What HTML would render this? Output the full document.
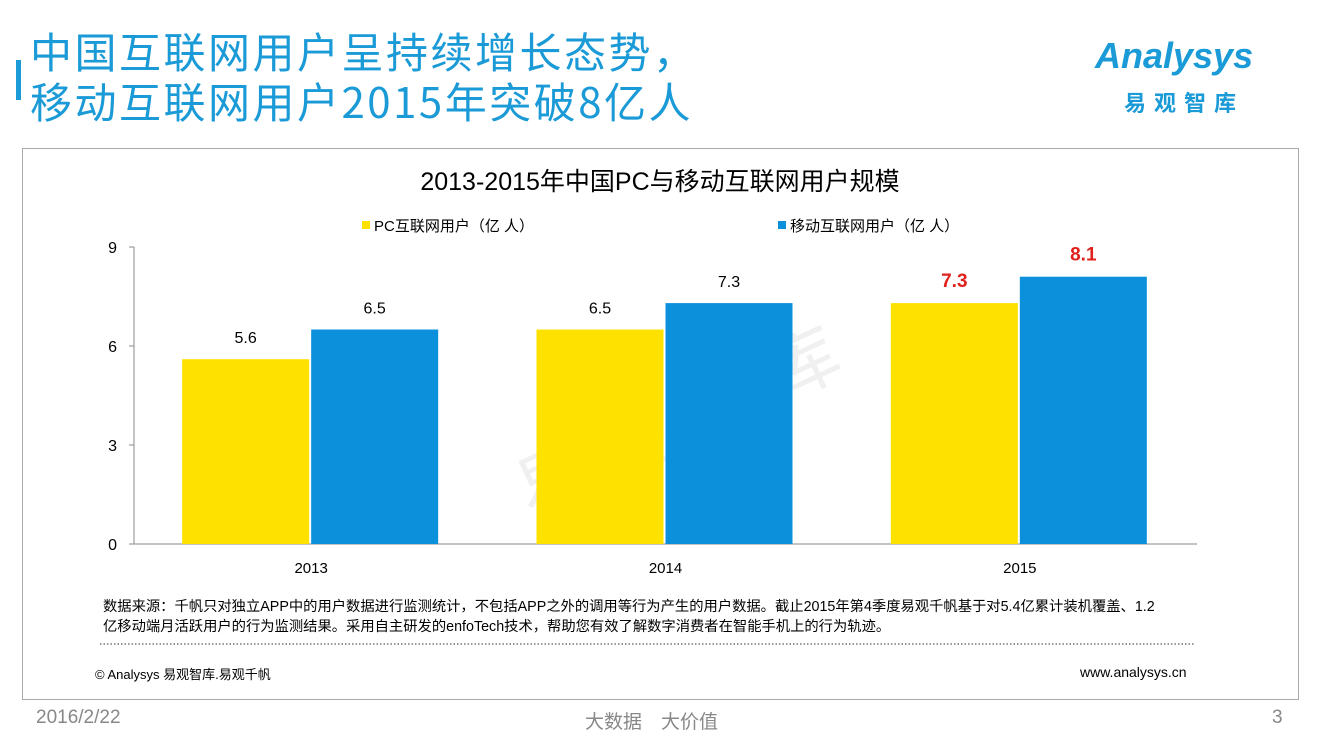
<!DOCTYPE html>
<html><head><meta charset="utf-8"><style>
body{margin:0;width:1320px;height:743px;background:#fff;font-family:"Liberation Sans","Noto Sans CJK SC",sans-serif;position:relative;overflow:hidden}
.abs{position:absolute}
</style></head><body>
<div class="abs" style="left:16px;top:60px;width:5px;height:40px;background:#1a9ad6"></div>
<div class="abs" style="left:30px;top:26px;font-size:42px;line-height:50px;color:#1a9ad6;font-family:'Noto Sans CJK SC',sans-serif;letter-spacing:2.5px">中国互联网用户呈持续增长态势，<br>移动互联网用户2015年突破8亿人</div>
<div class="abs" style="left:1095px;top:36px;color:#1a9ad6;font-size:36px;font-style:italic;font-weight:bold;line-height:40px">Analysys</div>
<div class="abs" style="left:1124px;top:86px;color:#1a9ad6;font-size:22px;font-weight:bold;letter-spacing:8px;font-family:'Noto Sans CJK SC',sans-serif">易观智库</div>
<div class="abs" style="left:22px;top:148px;width:1275px;height:550px;border:1px solid #aaa"></div>
<div class="abs" style="left:500px;top:360px;font-size:72px;color:#f0f0f0;transform:rotate(-25deg);letter-spacing:20px;font-family:'Noto Sans CJK SC',sans-serif">易观智库</div>
<svg class="abs" style="left:0;top:0" width="1320" height="743" id="chart">
<text x="660" y="190" text-anchor="middle" font-size="25" fill="#000">2013-2015年中国PC与移动互联网用户规模</text>
<rect x="362" y="221" width="8" height="8" fill="#ffe100"/>
<text x="374" y="231" font-size="15">PC互联网用户（亿 人）</text>
<rect x="778" y="221" width="8" height="8" fill="#0c90dc"/>
<text x="790" y="231" font-size="15">移动互联网用户（亿 人）</text>
<g id="plot"></g>
<line x1="100" y1="644" x2="1194" y2="644" stroke="#333" stroke-dasharray="1.5,2"/>
</svg>
<div class="abs" style="left:103px;top:597px;font-size:14.3px;line-height:20px;color:#000;width:1120px;white-space:nowrap">数据来源：千帆只对独立APP中的用户数据进行监测统计，不包括APP之外的调用等行为产生的用户数据。截止2015年第4季度易观千帆基于对5.4亿累计装机覆盖、1.2<br>亿移动端月活跃用户的行为监测结果。采用自主研发的enfoTech技术，帮助您有效了解数字消费者在智能手机上的行为轨迹。</div>
<div class="abs" style="left:95px;top:664px;font-size:13px">© Analysys 易观智库.易观千帆</div>
<div class="abs" style="left:1080px;top:664px;font-size:14px">www.analysys.cn</div>
<div class="abs" style="left:36px;top:707px;font-size:19px;color:#888">2016/2/22</div>
<div class="abs" style="left:585px;top:707px;font-size:19px;color:#888">大数据　大价值</div>
<div class="abs" style="left:1272px;top:707px;font-size:19px;color:#888">3</div>
<script>
const categories=["2013","2014","2015"];
const pcValues=[5.6,6.5,7.3];
const mobileValues=[6.5,7.3,8.1];
const yTicks=[0,3,6,9];
const NS="http://www.w3.org/2000/svg";
const g=document.getElementById('plot');
const x0=134,x1=1197,yBase=544,yTop=247,yMax=9;
const y=v=>yBase-(v/yMax)*(yBase-yTop);
const bw=(x1-x0)/categories.length;
const cx=i=>x0+bw*(i+0.5);
function mk(t,a){const e=document.createElementNS(NS,t);for(const k in a)e.setAttribute(k,a[k]);g.appendChild(e);return e;}
let ax=mk('line',{x1:x0,y1:yTop,x2:x0,y2:yBase,stroke:'#888'});


let bx=mk('line',{x1:x0,y1:yBase,x2:x1,y2:yBase,stroke:'#888'});


yTicks.forEach(v=>{
 mk('line',{x1:x0-5,y1:y(v),x2:x0,y2:y(v),stroke:'#888'});
 const t=mk('text',{x:x0-17,y:y(v)+6,'text-anchor':'end','font-size':16});t.textContent=v;
 
 
});
categories.forEach((c,i)=>{
 const t=mk('text',{x:cx(i),y:573,'text-anchor':'middle','font-size':15});t.textContent=c;
 
 
 const last=i===categories.length-1;
 [[pcValues[i],'#ffe100',cx(i)-129,'bar-pc'],[mobileValues[i],'#0c90dc',cx(i),'bar-mobile']].forEach(([v,col,bxp,nm])=>{
  const r=mk('rect',{x:bxp,y:y(v),width:127,height:yBase-y(v),fill:col});
  
  
  const l=mk('text',{x:bxp+63.5,y:y(v)-16,'text-anchor':'middle','font-size':last?19:16,fill:last?'#e0201c':'#000','font-weight':last?'bold':'normal'});
  l.textContent=v.toFixed(1);
  
  
 });
});
</script>
</body></html>
